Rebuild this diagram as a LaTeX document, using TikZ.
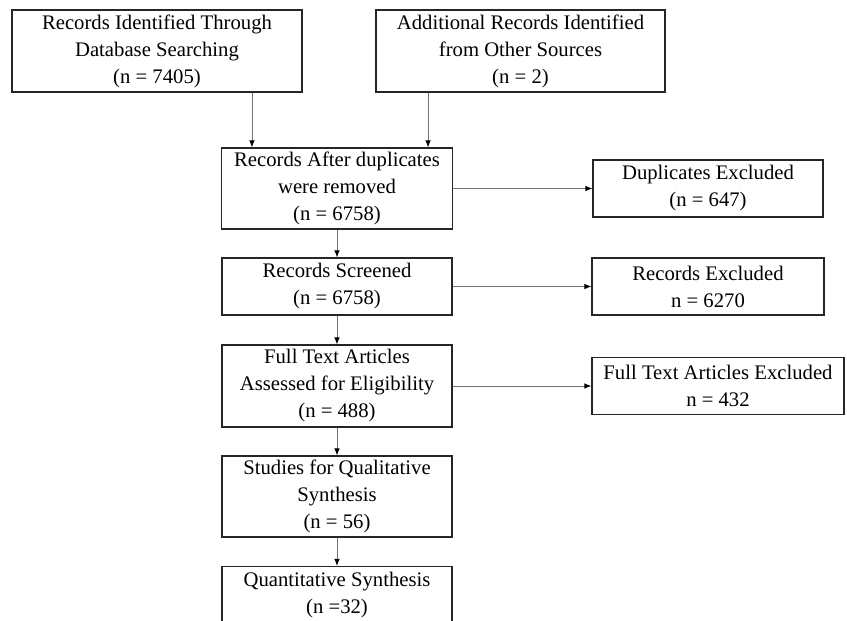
\documentclass[tikz,border=0pt]{standalone}
\usepackage{fontspec}
\setmainfont{Liberation Serif}
\usetikzlibrary{arrows.meta}

\begin{document}
\begin{tikzpicture}
[x=1pt,y=-1pt,
  boxDecorate/.style={shape=rectangle,draw=black!85,line width=1.1pt,align=center,
    inner sep=0pt,font=\fontsize{20.7}{27}\selectfont},%
  arrowDecorate/.style={draw=black!55,line width=0.9pt,
    -{Latex[length=7pt,width=5.5pt,color=black]}}]
\clip (0,0) rectangle (847,621);
%% boxes
\node (ident) at (157,51) [boxDecorate,minimum width=290,minimum height=82]
  {Records Identified Through\\Database Searching\\(n = 7405)};
\node (other) at (520.5,51) [boxDecorate,minimum width=289,minimum height=82]
  {Additional Records Identified\\from Other Sources\\(n = 2)};
\node (dupl) at (337,188.5) [boxDecorate,minimum width=231,minimum height=81]
  {Records After duplicates\\were removed\\(n = 6758)};
\node (dupx) at (708,188.5) [boxDecorate,minimum width=230,minimum height=57]
  {Duplicates Excluded\\(n = 647)};
\node (scrn) at (337,286.5) [boxDecorate,minimum width=230,minimum height=57]
  {Records Screened\\(n = 6758)};
\node (recx) at (708,286.5) [boxDecorate,minimum width=232,minimum height=57]
  {Records Excluded\\n = 6270};
\node (full) at (337,386) [boxDecorate,minimum width=230,minimum height=82]
  {Full Text Articles\\Assessed for Eligibility\\(n = 488)};
\node (fulx) at (718,386) [boxDecorate,minimum width=252,minimum height=57]
  {Full Text Articles Excluded\\n = 432};
\node (qual) at (337,496.5) [boxDecorate,minimum width=230,minimum height=81]
  {Studies for Qualitative\\Synthesis\\(n = 56)};
\node (quan) at (337,595.5) [boxDecorate,minimum width=230,minimum height=58]
  {Quantitative Synthesis\\(n =32)};
%% arrows
\draw[arrowDecorate] ([xshift=31pt]dupl.north west |- ident.south) -- ([xshift=31pt]dupl.north west);
\draw[arrowDecorate] ([xshift=-25pt]dupl.north east |- other.south) -- ([xshift=-25pt]dupl.north east);
\path
\foreach \startnode/\endnode in {dupl/scrn, scrn/full, full/qual, qual/quan, dupl/dupx, scrn/recx, full/fulx} {
  (\startnode) edge[arrowDecorate] (\endnode)
};
\end{tikzpicture}
\end{document}
